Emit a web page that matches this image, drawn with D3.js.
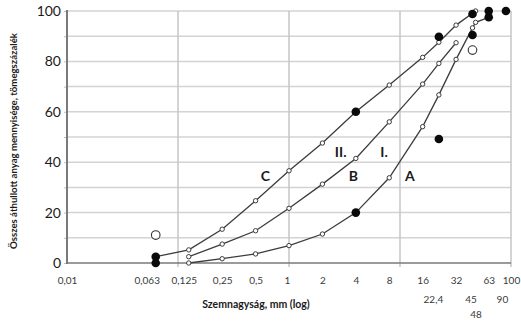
<!DOCTYPE html>
<html>
<head>
<meta charset="utf-8">
<script src="https://cdn.jsdelivr.net/npm/d3@7"></script>
<style>
  body { margin: 0; background: #fff; }
  svg { display: block; font-family: Lato, "Open Sans", sans-serif; }
</style>
</head>
<body>
<svg id="chart" width="521" height="321"></svg>
<script>
// Grading curves: sieve size (mm) and cumulative passing (mass %)
const sizesC = [0.063, 0.125, 0.25, 0.5, 1, 2, 4, 8, 16, 22.4, 32, 48];
const passC  = [2.5, 5.2, 13.4, 24.7, 36.6, 47.6, 60, 70.6, 81.6, 87.6, 94.4, 100];
const sizesB = [0.125, 0.25, 0.5, 1, 2, 4, 8, 16, 22.4, 32];
const passB  = [2.5, 7.5, 12.8, 21.7, 31.3, 41.5, 56, 71, 79.2, 87.4];
const sizesA = [0.125, 0.25, 0.5, 1, 2, 4, 8, 16, 22.4, 32, 45, 48, 63];
const passA  = [0, 1.7, 3.6, 6.9, 11.5, 20, 33.8, 54.1, 66.7, 80.8, 93.3, 95.5, 97.5];

// Measured samples (filled) and reference values (hollow)
const filledSizes = [0.063, 0.063, 4, 4, 22.4, 22.4, 45, 45, 63, 63, 90];
const filledPass  = [2.5, 0, 20, 60, 49.2, 89.8, 90.5, 98.8, 97.5, 100, 100];
const hollowSizes = [0.063, 45];
const hollowPass  = [11.1, 84.5];

// Curve names and their anchor points (mm, %)
const curveNames = ["C", "B", "A", "II.", "I."];
const nameSizes  = [0.614, 3.8, 12.3, 2.92, 7.18];
const namePass   = [34.5, 34.5, 34.5, 44, 44];

// Axis ticks
const xTicksRow1 = [0.01, 0.063, 0.125, 0.25, 0.5, 1, 2, 4, 8, 16, 32, 63, 100];
const xTicksRow2 = [22.4, 45, 90];
const xTicksRow3 = [48];
const yTicks = [0, 10, 20, 30, 40, 50, 60, 70, 80, 90, 100];
const xGrid = [0.1, 1, 10, 100];

const yTitle = "Összes áthullott anyag mennyisége, tömegszázalék";
const xTitle = "Szemnagyság, mm (log)";

const margin = { top: 11, right: 10, bottom: 58, left: 67 };
const W = 521, H = 321;
const svg = d3.select("#chart");

const x = d3.scaleLog().domain([0.01, 100]).range([margin.left, W - margin.right]);
const y = d3.scaleLinear().domain([0, 100]).range([H - margin.bottom, margin.top]);

const fmt = v => String(v).replace(".", ",");
// small nudges for crowded tick labels
const labelShift = new Map([[0.063, -9], [0.125, -5], [1, -2], [22.4, -6], [90, -4], [45, -2]]);

// horizontal grid
svg.append("g").selectAll("line").data(yTicks.filter(d => d > 0)).join("line")
  .attr("x1", x(0.01)).attr("x2", x(100))
  .attr("y1", d => y(d)).attr("y2", d => y(d))
  .attr("stroke", "#d3d3d3").attr("stroke-width", 1.5);

// vertical grid
svg.append("g").selectAll("line").data(xGrid).join("line")
  .attr("x1", d => x(d)).attr("x2", d => x(d))
  .attr("y1", y(100)).attr("y2", y(0) + 4)
  .attr("stroke", "#c6c6c6").attr("stroke-width", 1.5);

// y axis
const yAxis = svg.append("g").attr("transform", `translate(${margin.left},0)`)
  .call(d3.axisLeft(y).tickValues(yTicks).tickSize(3).tickPadding(3)
    .tickFormat(d => d % 20 === 0 ? d : ""));
yAxis.select(".domain").remove();
yAxis.selectAll(".tick line").attr("stroke", "#bdbdbd");
yAxis.selectAll(".tick text").attr("font-size", 14).attr("fill", "#1a1a1a")
  .attr("font-family", "Lato, 'Open Sans', sans-serif");

// axis lines
svg.append("line").attr("x1", x(0.01)).attr("x2", x(0.01))
  .attr("y1", y(100) - 1).attr("y2", y(0) + 1)
  .attr("stroke", "#7a7a7a").attr("stroke-width", 2);
svg.append("line").attr("x1", x(0.01)).attr("x2", x(100))
  .attr("y1", y(0)).attr("y2", y(0))
  .attr("stroke", "#7a7a7a").attr("stroke-width", 1.6);

// x tick labels, in three rows
function xRow(ticks, dy) {
  const g = svg.append("g").attr("transform", `translate(0,${y(0) + dy})`)
    .call(d3.axisBottom(x).tickValues(ticks).tickSize(0).tickPadding(0).tickFormat(fmt));
  g.select(".domain").remove();
  g.selectAll(".tick text").attr("font-size", 10).attr("fill", "#3a3a3a")
    .attr("font-family", "Lato, 'Open Sans', sans-serif")
    .attr("dx", d => labelShift.get(d) || 0);
}
xRow(xTicksRow1, 14);
xRow(xTicksRow2, 33);
xRow(xTicksRow3, 48);

// axis titles
svg.append("text").attr("x", 256).attr("y", 308).attr("text-anchor", "middle")
  .attr("font-size", 10.5).attr("font-weight", 700).attr("fill", "#1a1a1a").text(xTitle);
svg.append("text").attr("transform", `translate(17,${(y(0) + y(100)) / 2 + 4}) rotate(-90)`)
  .attr("text-anchor", "middle")
  .attr("font-size", 9.6).attr("font-weight", 700).attr("fill", "#1a1a1a").text(yTitle);

// curves
const line = d3.line().x(d => x(d[0])).y(d => y(d[1]));
const curves = [d3.zip(sizesC, passC), d3.zip(sizesB, passB), d3.zip(sizesA, passA)];
svg.append("g").selectAll("path").data(curves).join("path")
  .attr("d", line).attr("fill", "none").attr("stroke", "#3c3c3c").attr("stroke-width", 1.3);
svg.append("g").selectAll("circle").data(curves.flat()).join("circle")
  .attr("cx", d => x(d[0])).attr("cy", d => y(d[1])).attr("r", 2.2)
  .attr("fill", "#fff").attr("stroke", "#3c3c3c").attr("stroke-width", 1);

// hollow reference points
svg.append("g").selectAll("circle").data(d3.zip(hollowSizes, hollowPass)).join("circle")
  .attr("cx", d => x(d[0])).attr("cy", d => y(d[1])).attr("r", 4.3)
  .attr("fill", "#fff").attr("stroke", "#333").attr("stroke-width", 1.1);

// filled sample points
svg.append("g").selectAll("circle").data(d3.zip(filledSizes, filledPass)).join("circle")
  .attr("cx", d => x(d[0])).attr("cy", d => y(d[1])).attr("r", 4.3)
  .attr("fill", "#0a0a0a");

// curve names
svg.append("g").selectAll("text").data(d3.zip(curveNames, nameSizes, namePass)).join("text")
  .attr("x", d => x(d[1])).attr("y", d => y(d[2]) + 5)
  .attr("text-anchor", "middle").attr("font-size", 14).attr("font-weight", 700)
  .attr("fill", "#1a1a1a").text(d => d[0]);
</script>
</body>
</html>
